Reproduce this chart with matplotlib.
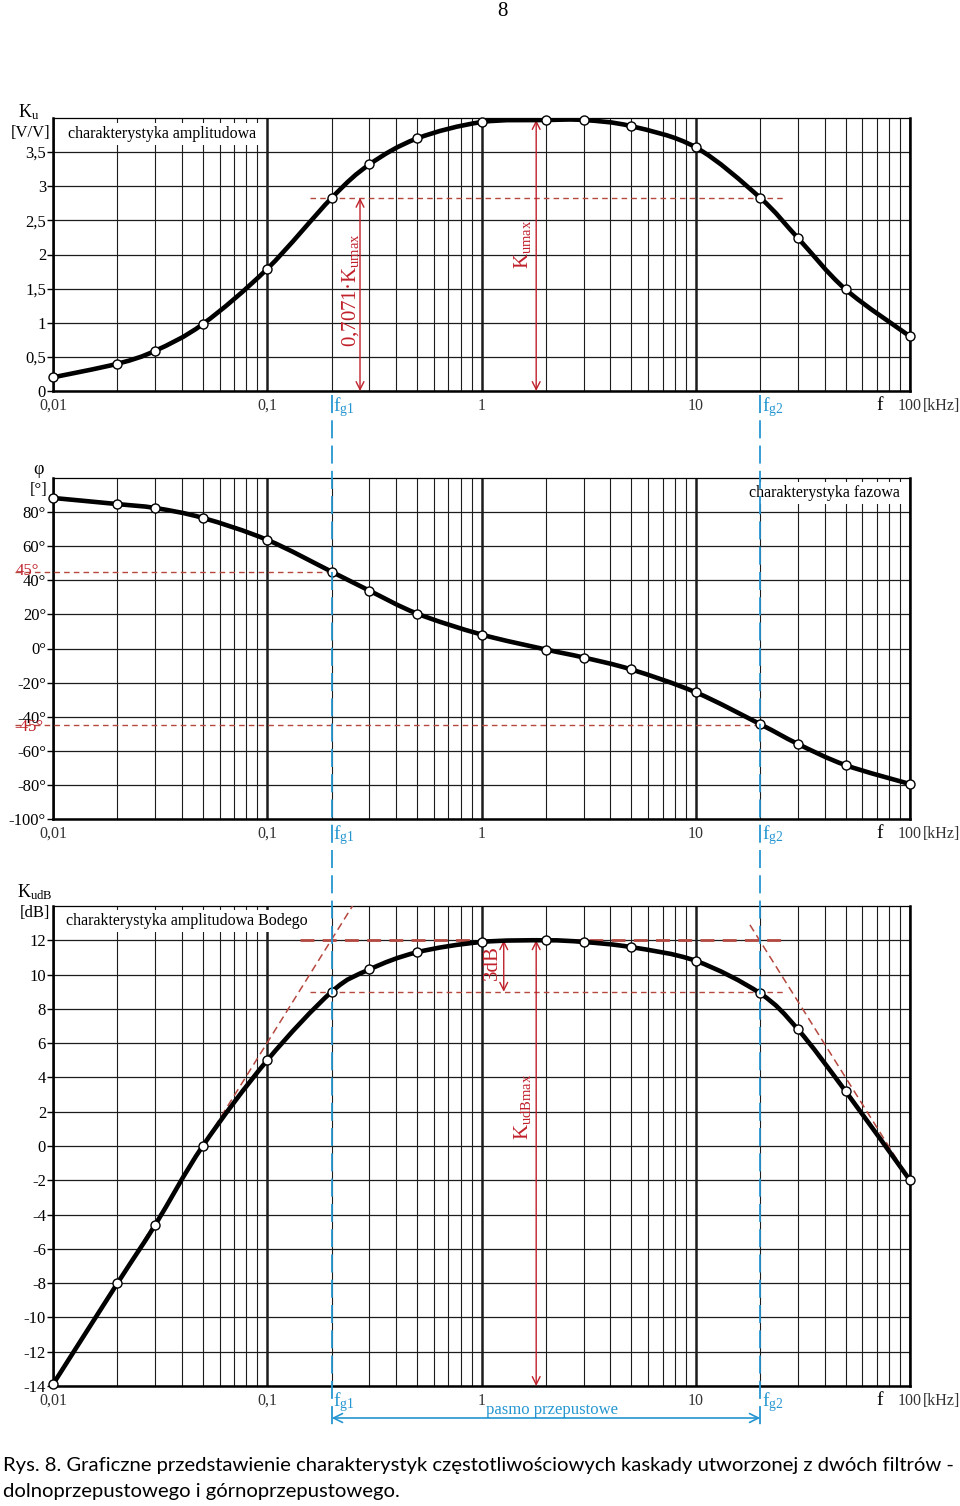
import matplotlib
matplotlib.use('Agg')
import matplotlib.pyplot as plt
import numpy as np
from matplotlib.path import Path
from matplotlib.patches import PathPatch
from matplotlib.lines import Line2D
from matplotlib.ticker import LogLocator, NullFormatter
from matplotlib.transforms import blended_transform_factory

plt.rcParams['font.family'] = ['Liberation Serif', 'DejaVu Serif']
plt.rcParams['mathtext.fontset'] = 'custom'
plt.rcParams['mathtext.rm'] = 'Liberation Serif'
plt.rcParams['mathtext.it'] = 'Liberation Serif:italic'

# measured points [kHz]
f = [0.01, 0.02, 0.03, 0.05, 0.1, 0.2, 0.3, 0.5, 1, 2, 3, 5, 10, 20, 30, 50, 100]
ku = [0.20, 0.40, 0.59, 0.98, 1.79, 2.83, 3.32, 3.70, 3.94, 3.97, 3.97, 3.88, 3.57, 2.83, 2.24, 1.49, 0.80]
phi = [88.3, 84.7, 82.4, 76.6, 63.7, 45.0, 33.9, 20.5, 8.2, -0.6, -5.3, -12.3, -25.7, -44.4, -56.0, -68.4, -79.5]
kdb = [-13.9, -8.0, -4.6, 0.0, 5.0, 9.0, 10.3, 11.3, 11.9, 12.0, 11.9, 11.6, 10.8, 8.9, 6.8, 3.2, -2.0]

fg1, fg2 = 0.2, 20
ku_max = 3.97
ku_707 = 2.83
kdb_max, kdb_3 = 12, 9

# Bode asymptotes
asym_l_f = [0.01, 0.25]
asym_l_db = [-14, 14]
asym_r_f = [17.9, 100]
asym_r_db = [12.9, -2]

decades = [0.01, 0.1, 1, 10, 100]
dec_labels = ['0,01', '0,1', '1', '10', '100']

ku_ticks = [0, 0.5, 1, 1.5, 2, 2.5, 3, 3.5]
ku_labels = ['0', '0,5', '1', '1,5', '2', '2,5', '3', '3,5']
phi_ticks = list(range(-100, 81, 20))
phi_labels = ['%d°' % v for v in phi_ticks]
db_ticks = list(range(-14, 13, 2))
db_labels = [str(v) for v in db_ticks]

gc = '#1c1c1c'
red = '#c0202a'
red_d = '#b5483f'
blue = '#2596d1'


def smooth_path(x, y, t=1 / 6):
    u = np.log10(x)
    y = np.asarray(y, float)
    n = len(u)
    verts = [(u[0], y[0])]
    codes = [Path.MOVETO]
    for i in range(n - 1):
        p0 = (u[i - 1], y[i - 1]) if i > 0 else (u[i], y[i])
        p3 = (u[i + 2], y[i + 2]) if i + 2 < n else (u[i + 1], y[i + 1])
        c1 = (u[i] + (u[i + 1] - p0[0]) * t, y[i] + (y[i + 1] - p0[1]) * t)
        c2 = (u[i + 1] - (p3[0] - u[i]) * t, y[i + 1] - (p3[1] - y[i]) * t)
        verts += [c1, c2, (u[i + 1], y[i + 1])]
        codes += [Path.CURVE4] * 3
    verts = np.array(verts)
    verts[:, 0] = 10 ** verts[:, 0]
    return Path(verts, codes)


def setup(ax, ylo, yhi, ticks, labels):
    ax.set_xscale('log')
    ax.set_xlim(0.01, 100)
    ax.set_ylim(ylo, yhi)
    ax.set_yticks(ticks)
    ax.set_yticklabels(labels)
    ax.set_xticks(decades)
    ax.set_xticklabels(dec_labels)
    ax.xaxis.set_minor_locator(LogLocator(base=10, subs=range(2, 10)))
    ax.xaxis.set_minor_formatter(NullFormatter())
    ax.set_axisbelow(True)
    ax.grid(which='major', axis='x', color=gc, lw=1.8)
    ax.grid(which='minor', axis='x', color=gc, lw=0.8)
    ax.grid(which='major', axis='y', color=gc, lw=0.9)
    ax.tick_params(axis='x', which='both', length=0, pad=5, labelsize=11.5)
    ax.tick_params(axis='y', length=4, width=1, pad=1, labelsize=12)
    for s in ['left', 'bottom', 'right']:
        ax.spines[s].set_linewidth(1.8)
    ax.spines['top'].set_linewidth(0.9)
    for lab in ax.get_xticklabels():
        lab.set_color('#333333')
    # f, [kHz], fg labels
    tr = blended_transform_factory(ax.transData, ax.transAxes)
    ax.annotate('[kHz]', xy=(100, 0), xycoords=tr, xytext=(9, -5),
                textcoords='offset points', ha='left', va='top', fontsize=11.5, color='#333333')
    ax.annotate('f', xy=(0.965, 0), xycoords='axes fraction', xytext=(0, -4),
                textcoords='offset points', ha='center', va='top', fontsize=14)
    for fg, name in [(fg1, 'g1'), (fg2, 'g2')]:
        ax.annotate('f$_{\\mathrm{%s}}$' % name, xy=(fg, 0), xycoords=tr, xytext=(1, -3),
                    textcoords='offset points', ha='left', va='top', fontsize=14, color=blue)


def curve(ax, y):
    ax.add_patch(PathPatch(smooth_path(f, y), fill=False, lw=3.3, ec='black', zorder=4))
    ax.plot(f, y, 'o', mfc='white', mec='black', ms=6.5, mew=1, zorder=5, clip_on=False)


fig = plt.figure(figsize=(9.6, 15.06), dpi=100)
L, W = 53 / 960, 857 / 960
ax1 = fig.add_axes([L, 1 - 391 / 1506, W, 273 / 1506])
ax2 = fig.add_axes([L, 1 - 819 / 1506, W, 341 / 1506])
ax3 = fig.add_axes([L, 1 - 1386 / 1506, W, 480 / 1506])

setup(ax1, 0, 4, ku_ticks, ku_labels)
setup(ax2, -100, 100, phi_ticks, phi_labels)
setup(ax3, -14, 14, db_ticks, db_labels)

# ---- panel 1: amplitude
curve(ax1, ku)
ax1.plot([0.158, 26], [ku_707, ku_707], ls=(0, (4, 3)), color=red_d, lw=1, zorder=3)
ax1.annotate('', xy=(0.271, 0), xytext=(0.271, ku_707),
             arrowprops=dict(arrowstyle='<->', color=red, lw=1, shrinkA=0, shrinkB=0, mutation_scale=14))
ax1.annotate('', xy=(1.8, 0), xytext=(1.8, ku_max),
             arrowprops=dict(arrowstyle='<->', color=red, lw=1, shrinkA=0, shrinkB=0, mutation_scale=14))
ax1.text(0.245, 1.48, '0,7071·K$_{\\mathrm{umax}}$', rotation=90, ha='center', va='center',
         fontsize=15, color=red)
ax1.text(1.55, 2.15, 'K$_{\\mathrm{umax}}$', rotation=90, ha='center', va='center',
         fontsize=15, color=red)
ax1.text(0.0175, 0.941, 'charakterystyka amplitudowa', transform=ax1.transAxes, ha='left',
         va='center', fontsize=11.5, zorder=3,
         bbox=dict(facecolor='white', edgecolor='none', pad=2))
fig.text(29 / 960, 1 - 112 / 1506, 'K$_{\\mathrm{u}}$', ha='center', va='center', fontsize=13)
fig.text(31 / 960, 1 - 133 / 1506, '[V/V]', ha='center', va='center', fontsize=12)

# ---- panel 2: phase
curve(ax2, phi)
ax2.plot([0.00665, fg1], [45, 45], ls=(0, (4, 3)), color=red_d, lw=1, zorder=3, clip_on=False)
ax2.plot([0.00665, fg2], [-45, -45], ls=(0, (4, 3)), color=red_d, lw=1, zorder=3, clip_on=False)
fig.text(27 / 960, 1 - 571 / 1506, '45°', ha='center', va='center', fontsize=12, color=red)
fig.text(29 / 960, 1 - 727 / 1506, '-45°', ha='center', va='center', fontsize=12, color=red)
ax2.text(0.988, 0.956, 'charakterystyka fazowa', transform=ax2.transAxes, ha='right',
         va='center', fontsize=11.5, zorder=3,
         bbox=dict(facecolor='white', edgecolor='none', pad=2))
fig.text(39 / 960, 1 - 470 / 1506, 'φ', ha='center', va='center', fontsize=13)
fig.text(39 / 960, 1 - 490 / 1506, '[°]', ha='center', va='center', fontsize=12)

# ---- panel 3: Bode
curve(ax3, kdb)
ax3.plot(asym_l_f, asym_l_db, ls=(0, (5, 3)), color=red_d, lw=1.1, zorder=3)
ax3.plot(asym_r_f, asym_r_db, ls=(0, (5, 3)), color=red_d, lw=1.1, zorder=3)
ax3.plot([0.142, 25.5], [kdb_max, kdb_max], ls=(0, (5, 3)), color=red_d, lw=2, zorder=3)
ax3.plot([0.158, 25.5], [kdb_3, kdb_3], ls=(0, (4, 3)), color=red_d, lw=1, zorder=3)
ax3.annotate('', xy=(1.27, kdb_3), xytext=(1.27, kdb_max),
             arrowprops=dict(arrowstyle='<->', color=red, lw=1, shrinkA=0, shrinkB=0, mutation_scale=14))
ax3.annotate('', xy=(1.8, -14), xytext=(1.8, kdb_max),
             arrowprops=dict(arrowstyle='<->', color=red, lw=1, shrinkA=0, shrinkB=0, mutation_scale=14))
ax3.text(1.12, 10.7, '3dB', rotation=90, ha='center', va='center', fontsize=15, color=red)
ax3.text(1.55, 2.3, 'K$_{\\mathrm{udBmax}}$', rotation=90, ha='center', va='center',
         fontsize=15, color=red)
ax3.text(0.015, 0.969, 'charakterystyka amplitudowa Bodego', transform=ax3.transAxes, ha='left',
         va='center', fontsize=11.5, zorder=3,
         bbox=dict(facecolor='white', edgecolor='none', pad=2))
fig.text(35 / 960, 1 - 892 / 1506, 'K$_{\\mathrm{udB}}$', ha='center', va='center', fontsize=13)
fig.text(35 / 960, 1 - 913 / 1506, '[dB]', ha='center', va='center', fontsize=12)

# pass band
tr3 = blended_transform_factory(ax3.transData, ax3.transAxes)
ax3.annotate('', xy=(fg1, -32 / 480), xycoords=tr3, xytext=(fg2, -32 / 480), textcoords=tr3,
             arrowprops=dict(arrowstyle='<->', color=blue, lw=1.2, shrinkA=0, shrinkB=0,
                             mutation_scale=16))
ax3.text(np.sqrt(fg1 * fg2) * 1.07, -24 / 480, 'pasmo przepustowe', transform=tr3, ha='center',
         va='center', fontsize=12, color=blue)

# fg cut-off lines through all panels
trf = blended_transform_factory(ax3.transData, fig.transFigure)
for fg in (fg1, fg2):
    fig.add_artist(Line2D([fg, fg], [1 - 395 / 1506, 1 - 1425 / 1506], transform=trf,
                          color=blue, lw=1.3, ls=(0, (10, 4)), zorder=6))

fig.text(502 / 960, 1 - 12 / 1506, '8', ha='center', va='center', fontsize=15)
cap = ('Rys. 8. Graficzne przedstawienie charakterystyk częstotliwościowych kaskady '
       'utworzonej z dwóch filtrów -')
fig.text(3 / 960, 1 - 1466 / 1506, cap, ha='left', va='center', fontsize=14.6,
         family=['Lato', 'DejaVu Sans'])
fig.text(3 / 960, 1 - 1491 / 1506, 'dolnoprzepustowego i górnoprzepustowego.', ha='left',
         va='center', fontsize=14.6, family=['Lato', 'DejaVu Sans'])

fig.savefig('out.png', dpi=100)
